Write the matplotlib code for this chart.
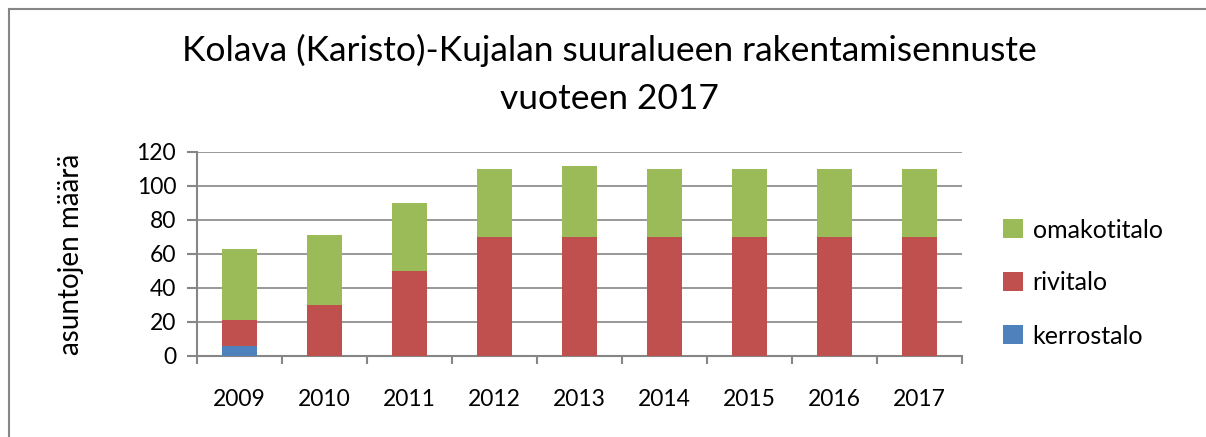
import matplotlib
matplotlib.use("Agg")
import matplotlib.pyplot as plt
from matplotlib.lines import Line2D
import numpy as np

# data
years = ["2009", "2010", "2011", "2012", "2013", "2014", "2015", "2016", "2017"]
kerrostalo = [6, 0, 0, 0, 0, 0, 0, 0, 0]
rivitalo = [15, 30, 50, 70, 70, 70, 70, 70, 70]
omakotitalo = [42, 41, 40, 40, 42, 40, 40, 40, 40]

body_font = ["Lato", "DejaVu Sans"]

fig = plt.figure(figsize=(12.06, 4.37), dpi=100)
ax = fig.add_axes([197 / 1206, 1 - 356 / 437, 765 / 1206, 204 / 437])

x = np.arange(len(years))
w = 0.41
b1 = np.array(kerrostalo)
b2 = b1 + np.array(rivitalo)
ax.bar(x, kerrostalo, w, color="#4F81BD", label="kerrostalo", zorder=3)
ax.bar(x, rivitalo, w, bottom=b1, color="#C0504D", label="rivitalo", zorder=3)
ax.bar(x, omakotitalo, w, bottom=b2, color="#9BBB59", label="omakotitalo", zorder=3)

ax.set_xlim(-0.5, len(years) - 0.5)
ax.set_ylim(0, 120)
ax.set_yticks(range(0, 121, 20))
ax.set_xticks(x)
ax.set_xticklabels(years, family=body_font, fontsize=16.5)
for lab in ax.get_yticklabels():
    lab.set_family(body_font)
    lab.set_fontsize(16.5)
ax.set_xticks(np.arange(-0.5, len(years), 1), minor=True)
ax.tick_params(axis="x", which="major", length=0, pad=24)
ax.tick_params(axis="x", which="minor", length=6, color="#868686", width=1.5)
ax.tick_params(axis="y", length=7, color="#868686", width=1.5, pad=8)

ax.grid(axis="y", color="#868686", linewidth=1.2, zorder=0)
for s in ["top", "right"]:
    ax.spines[s].set_visible(False)
for s in ["left", "bottom"]:
    ax.spines[s].set_color("#868686")
    ax.spines[s].set_linewidth(1.5)

ax.set_ylabel("asuntojen määrä", family=body_font, fontsize=20, labelpad=38)

fig.text(609 / 1206, 1 - 50 / 437, "Kolava (Karisto)-Kujalan suuralueen rakentamisennuste",
         ha="center", va="center", family=body_font, fontsize=25.5)
fig.text(609 / 1206, 1 - 99 / 437, "vuoteen 2017",
         ha="center", va="center", family=body_font, fontsize=25.5)

handles, labels = ax.get_legend_handles_labels()
leg = fig.legend(handles[::-1], labels[::-1], loc="center left",
                 bbox_to_anchor=(980 / 1206, 1 - 283 / 437), frameon=False,
                 prop={"family": body_font, "size": 18}, handlelength=0.8,
                 handleheight=0.8, handletextpad=0.4, labelspacing=1.2)

# chart border: top and left edges only
fig.add_artist(Line2D([8.5 / 1206, 1], [1 - 8.5 / 437, 1 - 8.5 / 437],
                      transform=fig.transFigure, color="#868686", linewidth=1.5))
fig.add_artist(Line2D([8.5 / 1206, 8.5 / 1206], [0, 1 - 8.5 / 437],
                      transform=fig.transFigure, color="#868686", linewidth=1.5))

fig.savefig("out.png", dpi=100)
